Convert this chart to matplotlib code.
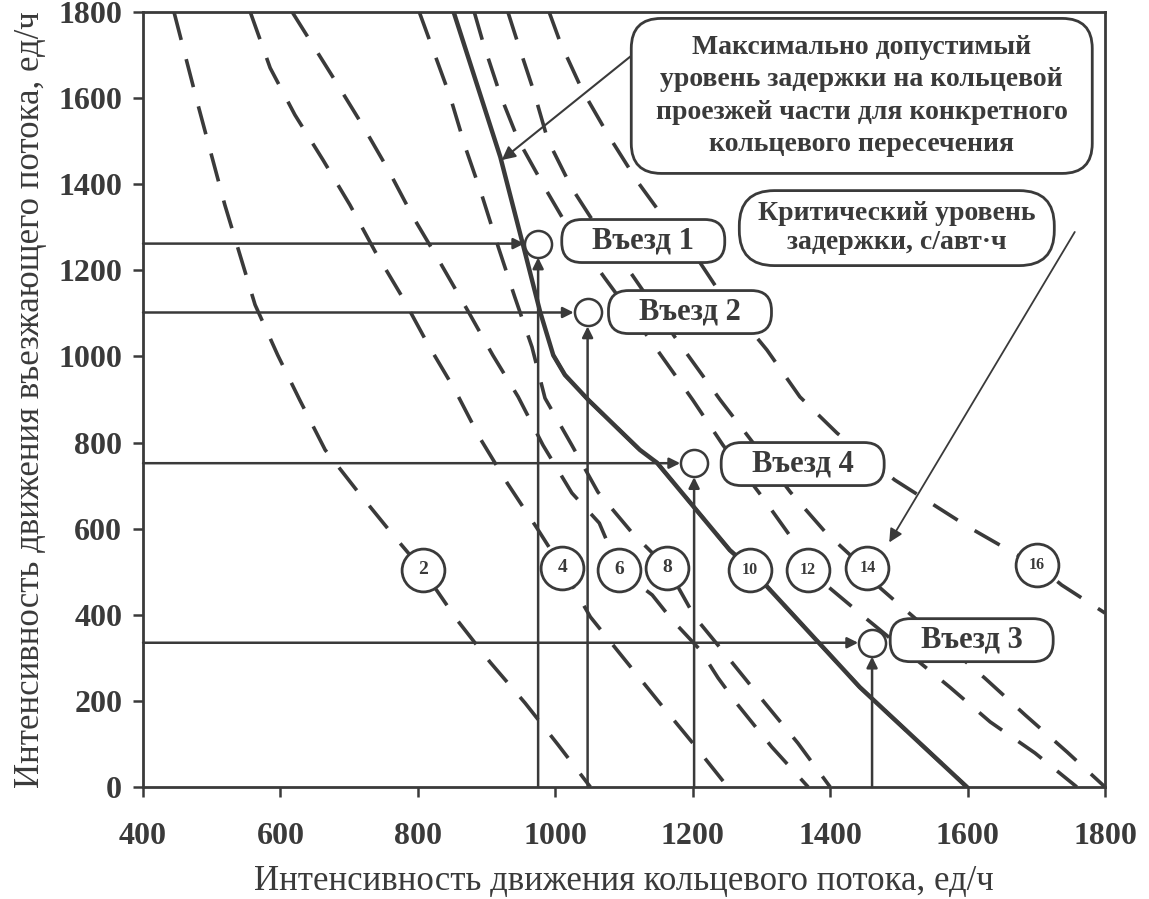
import matplotlib.pyplot as plt
from matplotlib.patches import FancyBboxPatch
from matplotlib.transforms import ScaledTranslation

# delay curves (s/veh): ring flow (x) vs entry flow (y), veh/h
d2_x = [445, 480, 519, 563, 596, 628, 665, 713, 764, 807, 857, 905, 956, 1004, 1051]
d2_y = [1800, 1584, 1352, 1120, 1003, 899, 783, 685, 585, 504, 388, 290, 195, 98, 0]

d4_x = [556, 585, 621, 662, 701, 738, 778, 815, 854, 890, 930, 973, 1010, 1051, 1104, 1152, 1200, 1251]
d4_y = [1800, 1670, 1561, 1456, 1352, 1243, 1136, 1027, 922, 811, 706, 602, 509, 395, 290, 195, 102, 0]

d6_x = [617, 679, 719, 757, 793, 832, 872, 909, 946, 982, 1024, 1064, 1093, 1141, 1170, 1211, 1237, 1266, 1315, 1368]
d6_y = [1800, 1642, 1538, 1433, 1324, 1219, 1108, 1003, 906, 794, 683, 613, 504, 446, 388, 318, 253, 190, 93, 0]

d8_x = [802, 847, 869, 893, 917, 941, 966, 985, 1024, 1062, 1112, 1163, 1203, 1240, 1305, 1353, 1400]
d8_y = [1800, 1603, 1486, 1375, 1254, 1138, 1022, 903, 794, 685, 590, 509, 395, 323, 195, 102, 0]

d10_x = [997, 1014, 1048, 1123, 1148, 1254, 1283, 1443, 1599]
d10_y = [1003, 957, 899, 783, 753, 550, 509, 232, 0]

d12_x = [882, 895, 920, 946, 985, 1014, 1072, 1135, 1200, 1244, 1301, 1344, 1368, 1451, 1574, 1633, 1698, 1759]
d12_y = [1800, 1728, 1607, 1503, 1391, 1312, 1182, 1045, 899, 794, 674, 578, 504, 393, 232, 151, 79, 0]

d14_x = [931, 944, 968, 989, 1024, 1051, 1112, 1174, 1240, 1288, 1342, 1393, 1429, 1473, 1506, 1625, 1684, 1745, 1800]
d14_y = [1800, 1735, 1619, 1503, 1391, 1324, 1189, 1045, 899, 799, 685, 592, 539, 462, 416, 253, 167, 81, 0]

d16_x = [991, 1007, 1039, 1077, 1120, 1157, 1211, 1240, 1308, 1356, 1410, 1494, 1601, 1672, 1701, 1737, 1800]
d16_y = [1800, 1730, 1619, 1514, 1405, 1324, 1217, 1147, 1015, 906, 822, 713, 604, 539, 516, 469, 404]

# maximum permissible delay for this roundabout
max_x = [852, 920, 953, 978, 997, 1014, 1048, 1123, 1148, 1254, 1283, 1443, 1599]
max_y = [1800, 1463, 1259, 1103, 1003, 957, 899, 783, 753, 550, 509, 232, 0]

# circled delay labels
delay_labels = ['2', '4', '6', '8', '10', '12', '14', '16']
lab_x = [807, 1010, 1093, 1163, 1283, 1368, 1454, 1701]
lab_y = [504, 509, 504, 509, 504, 504, 509, 516]

# entries
entry_names = ['Въезд 1', 'Въезд 2', 'Въезд 3', 'Въезд 4']
entry_x = [975, 1047, 1461, 1202]
entry_y = [1262, 1102, 335, 752]
entry_box_x = [1128, 1196, 1606, 1360]
entry_box_y = [1268, 1103, 341, 750]

x_ticks = [400, 600, 800, 1000, 1200, 1400, 1600, 1800]
y_ticks = [0, 200, 400, 600, 800, 1000, 1200, 1400, 1600, 1800]

ink = '#3a3a3a'
plt.rcParams['font.family'] = ['Liberation Serif', 'DejaVu Serif']

fig = plt.figure(figsize=(11.49, 8.99), dpi=100)
ax = fig.add_axes([0.1245, 0.1246, 0.8372, 0.8621])

dash = (0, (8, 5.5))
for cx, cy in [(d2_x, d2_y), (d4_x, d4_y), (d6_x, d6_y), (d8_x, d8_y),
               (d10_x, d10_y), (d12_x, d12_y), (d14_x, d14_y), (d16_x, d16_y)]:
    ax.plot(cx, cy, color=ink, lw=2.6, ls=dash, zorder=2)
ax.plot(max_x, max_y, color=ink, lw=3.2, zorder=3)

# entry flows: arrows from both axes to the entry point
arr = dict(arrowstyle='-|>', color=ink, lw=1.8, shrinkA=0, shrinkB=10, mutation_scale=16)
for i in range(len(entry_names)):
    ax.annotate('', xy=(entry_x[i], entry_y[i]), xytext=(400, entry_y[i]), arrowprops=arr, zorder=4)
    ax.annotate('', xy=(entry_x[i], entry_y[i]), xytext=(entry_x[i], 0), arrowprops=arr, zorder=4)
ax.scatter(entry_x, entry_y, s=380, facecolors='white', edgecolors=ink, linewidths=1.8, zorder=6)

ax.scatter(lab_x, lab_y, s=950, facecolors='white', edgecolors=ink, linewidths=2.0, zorder=6)
for t, x, y in zip(delay_labels, lab_x, lab_y):
    ax.text(x, y, t, ha='center', va='center', fontsize=14 if len(t) == 1 else 11.5,
            fontweight='bold', color=ink, zorder=7)


def rbox(cx, cy, w, h, r):
    tr = fig.dpi_scale_trans + ScaledTranslation(cx, cy, ax.transData)
    p = FancyBboxPatch((-w / 2, -h / 2), w, h, boxstyle='round,pad=0,rounding_size=%s' % r,
                       transform=tr, fc='white', ec=ink, lw=2.0, zorder=5, clip_on=False)
    ax.add_patch(p)


for name, bx, by in zip(entry_names, entry_box_x, entry_box_y):
    rbox(bx, by, 1.63, 0.43, 0.2)
    ax.text(bx, by, name, ha='center', va='center', fontsize=22, fontweight='bold', color=ink, zorder=7)

# callouts
rbox(1446, 1605, 4.61, 1.55, 0.3)
ax.text(1446, 1605, 'Максимально допустимый\nуровень задержки на кольцевой\nпроезжей части для конкретного\nкольцевого пересечения',
        ha='center', va='center', fontsize=20, fontweight='bold', color=ink, linespacing=1.4, zorder=7)
ax.annotate('', xy=(922, 1456), xytext=(1112, 1700),
            arrowprops=dict(arrowstyle='-|>', color=ink, lw=1.5, shrinkA=0, shrinkB=0, mutation_scale=20), zorder=4)

rbox(1497, 1298, 3.15, 0.75, 0.35)
ax.text(1497, 1298, 'Критический уровень\nзадержки, с/авт·ч',
        ha='center', va='center', fontsize=20, fontweight='bold', color=ink, linespacing=1.25, zorder=7)
ax.annotate('', xy=(1486, 568), xytext=(1756, 1289),
            arrowprops=dict(arrowstyle='-|>', color=ink, lw=1.3, shrinkA=0, shrinkB=0, mutation_scale=20), zorder=4)

ax.set_xlim(400, 1800)
ax.set_ylim(0, 1800)
ax.set_xticks(x_ticks)
ax.set_yticks(y_ticks)
ax.tick_params(direction='out', length=7, width=1.8, colors=ink, labelsize=23)
ax.tick_params(axis='x', pad=18)
ax.tick_params(axis='y', pad=8)
for lab in ax.get_xticklabels() + ax.get_yticklabels():
    lab.set_fontweight('bold')
for s in ax.spines.values():
    s.set_linewidth(2.0)
    s.set_color(ink)

ax.set_xlabel('Интенсивность движения кольцевого потока, ед/ч', fontsize=25, color=ink, labelpad=10)
ax.set_ylabel('Интенсивность движения въезжающего потока, ед/ч', fontsize=25, color=ink, labelpad=8)

fig.savefig('out.png', dpi=100)
